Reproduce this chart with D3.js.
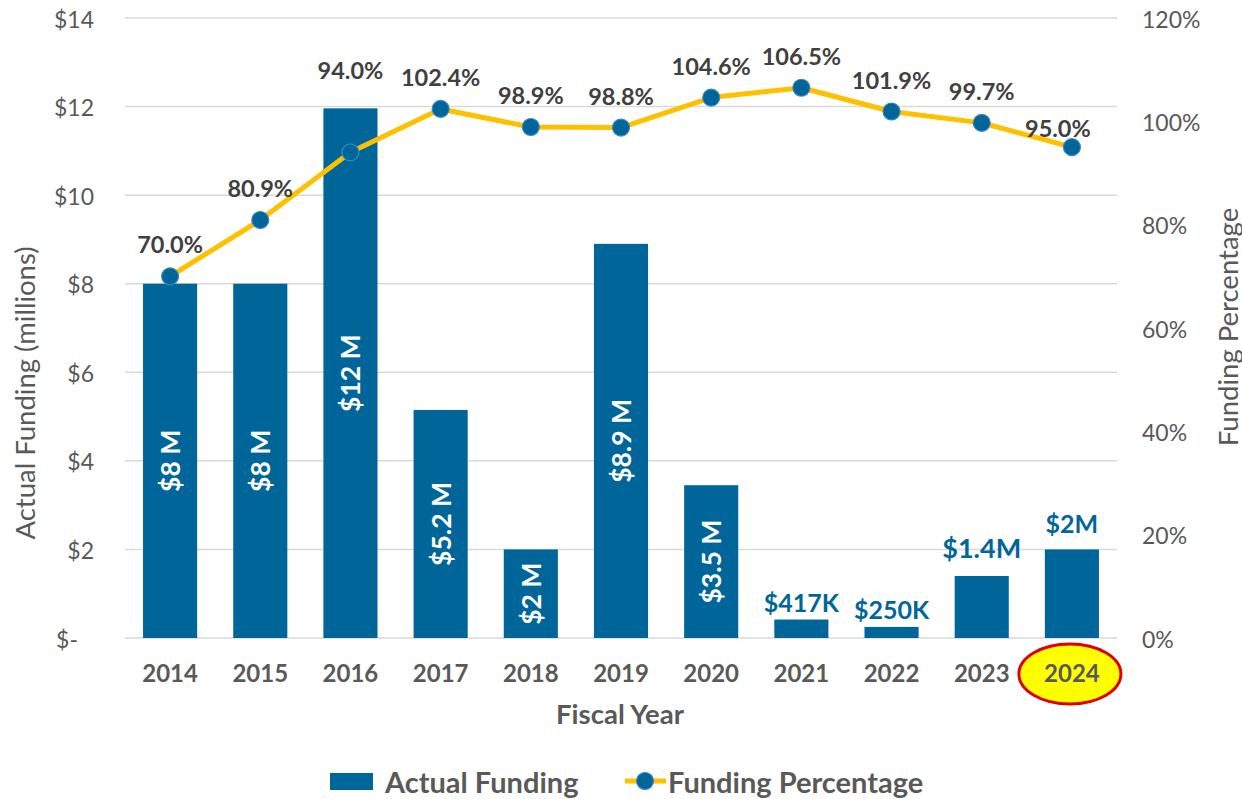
<!DOCTYPE html>
<html>
<head>
<meta charset="UTF-8">
<title>actual_funding_by_fiscal_year</title>

<style type="text/css">

	body { margin: 0; background: #fff; }

	text { font-family: Lato, "Open Sans", sans-serif; }

	.axis path { display: none; }
	.axis line { display: none; }

	.axis text {
		font-size: 23px;
		fill: #595959;
	}

	.x.axis text {
		font-size: 24px;
		font-weight: bold;
	}

	.grid line { stroke: #d9d9d9; stroke-width: 1.5px; }

	.title { font-size: 27.5px; fill: #595959; }

	.pct { font-size: 23.5px; font-weight: bold; fill: #404040; text-anchor: middle; }

	.inlabel { font-size: 26.5px; font-weight: bold; fill: #ffffff; text-anchor: middle; }

	.outlabel { font-size: 25px; font-weight: bold; fill: #00669a; text-anchor: middle; }

	.legend text { font-size: 29px; font-weight: bold; fill: #595959; }

</style>

<script type="text/javascript" src="https://d3js.org/d3.v7.min.js"></script>

<script type="text/javascript">

	// data
	var years = ["2014", "2015", "2016", "2017", "2018", "2019", "2020", "2021", "2022", "2023", "2024"];
	var funding = [8, 8, 11.96, 5.15, 2, 8.9, 3.45, 0.417, 0.25, 1.4, 2];  // millions
	var fundingLabels = ["$8 M", "$8 M", "$12 M", "$5.2 M", "$2 M", "$8.9 M", "$3.5 M", "$417K", "$250K", "$1.4M", "$2M"];
	var percent = [70.0, 80.9, 94.0, 102.4, 98.9, 98.8, 104.6, 106.5, 101.9, 99.7, 95.0];
	var fundingTicks = [0, 2, 4, 6, 8, 10, 12, 14];
	var percentTicks = [0, 20, 40, 60, 80, 100, 120];

	function draw(svg_w, svg_h, id_svg_main) {

		var left = 125, right = 1117, top = 18, bottom = 638;
		var barColor = "#00669a", lineColor = "#ffc000";

		var dataset = years.map(function (y, i) {
			return { year: y, amount: funding[i], label: fundingLabels[i], pct: percent[i] };
		});

		var scaleX = d3.scaleBand()
							.domain(years)
							.range([left, right])
							.paddingInner(0.4)
							.paddingOuter(0.2);

		var scaleY = d3.scaleLinear()
							.domain([0, 14])
							.range([bottom, top]);

		var scaleP = d3.scaleLinear()
							.domain([0, 120])
							.range([bottom, top]);

		var cx = function (d) { return scaleX(d.year) + scaleX.bandwidth() / 2; };

		var svg = d3.select(id_svg_main)
						.append("svg")
							.attr("width", svg_w)
							.attr("height", svg_h);

		// gridlines
		svg.append("g")
				.attr("class", "grid")
				.selectAll("line")
				.data(fundingTicks)
				.enter()
				.append("line")
					.attr("x1", left)
					.attr("x2", right)
					.attr("y1", function (d) { return scaleY(d); })
					.attr("y2", function (d) { return scaleY(d); });

		// bars
		svg.selectAll("rect.bar")
				.data(dataset)
				.enter()
				.append("rect")
					.attr("class", "bar")
					.attr("x", function (d) { return scaleX(d.year); })
					.attr("y", function (d) { return scaleY(d.amount); })
					.attr("width", scaleX.bandwidth())
					.attr("height", function (d) { return bottom - scaleY(d.amount); })
					.attr("fill", barColor);

		// labels inside the tall bars (rotated) and above the short ones
		var inBar = function (d, i) { return i < 7; };

		svg.selectAll("text.inlabel")
				.data(dataset.filter(inBar))
				.enter()
				.append("text")
					.attr("class", "inlabel")
					.attr("dominant-baseline", "central")
					.attr("transform", function (d) {
						var y = (scaleY(d.amount) + bottom) / 2;
						return "translate(" + cx(d) + "," + y + ") rotate(-90)";
					})
					.text(function (d) { return d.label; });

		var outNudge = { "2023": -10, "2024": -8 };

		svg.selectAll("text.outlabel")
				.data(dataset.filter(function (d, i) { return !inBar(d, i); }))
				.enter()
				.append("text")
					.attr("class", "outlabel")
					.attr("x", cx)
					.attr("y", function (d) { return scaleY(d.amount) - 8 + (outNudge[d.year] || 0); })
					.style("font-size", function (d) { return d.year === "2023" ? "27px" : null; })
					.text(function (d) { return d.label; });

		// percentage line
		var line = d3.line()
						.x(cx)
						.y(function (d) { return scaleP(d.pct); });

		svg.append("path")
				.datum(dataset)
				.attr("d", line)
				.attr("fill", "none")
				.attr("stroke", lineColor)
				.attr("stroke-width", 5)
				.attr("stroke-linejoin", "round");

		svg.selectAll("circle.pt")
				.data(dataset)
				.enter()
				.append("circle")
					.attr("class", "pt")
					.attr("cx", cx)
					.attr("cy", function (d) { return scaleP(d.pct); })
					.attr("r", 8.5)
					.attr("fill", barColor)
					.attr("stroke", "#3b86c0")
					.attr("stroke-width", 1.2);

		var pctNudge = { "2016": [0, -50], "2024": [-14, 13] };

		svg.selectAll("text.pct")
				.data(dataset)
				.enter()
				.append("text")
					.attr("class", "pct")
					.attr("dominant-baseline", "central")
					.attr("x", function (d) { return cx(d) + (pctNudge[d.year] ? pctNudge[d.year][0] : 0); })
					.attr("y", function (d) { return scaleP(d.pct) - 32 + (pctNudge[d.year] ? pctNudge[d.year][1] : 0); })
					.text(function (d) { return d.pct.toFixed(1) + "%"; });

		// highlight round the last year
		var last = years[years.length - 1];
		svg.append("ellipse")
				.attr("cx", scaleX(last) + scaleX.bandwidth() / 2 - 2)
				.attr("cy", 674)
				.attr("rx", 51)
				.attr("ry", 30)
				.attr("fill", "#ffff00")
				.attr("stroke", "#e00000")
				.attr("stroke-width", 3);

		// axes
		var axisX = d3.axisBottom(scaleX).tickSize(0).tickPadding(0);
		svg.append("g")
				.attr("class", "x axis")
				.attr("transform", "translate(0,672)")
				.call(axisX)
				.selectAll("text")
					.attr("dy", null)
					.attr("dominant-baseline", "central");

		var axisY = d3.axisLeft(scaleY)
						.tickValues(fundingTicks)
						.tickSize(0)
						.tickPadding(0)
						.tickFormat(function (d) { return d === 0 ? "$-" : "$" + d; });
		svg.append("g")
				.attr("class", "y axis")
				.attr("transform", "translate(94,0)")
				.call(axisY)
				.selectAll("text")
					.attr("dy", null)
					.attr("dominant-baseline", "central")
					.attr("x", function (d) { return d === 0 ? -16 : 0; });

		var axisP = d3.axisRight(scaleP)
						.tickValues(percentTicks)
						.tickSize(0)
						.tickPadding(0)
						.tickFormat(function (d) { return d + "%"; });
		svg.append("g")
				.attr("class", "p axis")
				.attr("transform", "translate(1142,0)")
				.call(axisP)
				.selectAll("text")
					.attr("dy", null)
					.attr("dominant-baseline", "central");

		// axis titles
		svg.append("text")
				.attr("class", "title")
				.attr("text-anchor", "middle")
				.attr("dominant-baseline", "central")
				.attr("transform", "translate(24,393) rotate(-90)")
				.text("Actual Funding (millions)");

		svg.append("text")
				.attr("class", "title")
				.attr("text-anchor", "middle")
				.attr("dominant-baseline", "central")
				.attr("transform", "translate(1227,327) rotate(-90)")
				.text("Funding Percentage");

		svg.append("text")
				.attr("class", "title")
				.attr("text-anchor", "middle")
				.attr("dominant-baseline", "central")
				.attr("x", 620)
				.attr("y", 713)
				.style("font-weight", "bold")
				.text("Fiscal Year");

		// legend
		var legend = svg.append("g").attr("class", "legend");

		legend.append("rect")
				.attr("x", 330).attr("y", 773)
				.attr("width", 43).attr("height", 17)
				.attr("fill", barColor);

		legend.append("text")
				.attr("x", 385).attr("y", 781)
				.attr("dominant-baseline", "central")
				.text("Actual Funding");

		legend.append("line")
				.attr("x1", 625).attr("x2", 666)
				.attr("y1", 781).attr("y2", 781)
				.attr("stroke", lineColor)
				.attr("stroke-width", 5);

		legend.append("circle")
				.attr("cx", 645).attr("cy", 781).attr("r", 8.5)
				.attr("fill", barColor)
				.attr("stroke", "#3b86c0")
				.attr("stroke-width", 1.2);

		legend.append("text")
				.attr("x", 668).attr("y", 781)
				.attr("dominant-baseline", "central")
				.text("Funding Percentage");
	}

</script>

</head>
<body>

<div id="div_main"></div>

<script type="text/javascript">
	draw(1242, 799, "#div_main");
</script>

</body>
</html>
